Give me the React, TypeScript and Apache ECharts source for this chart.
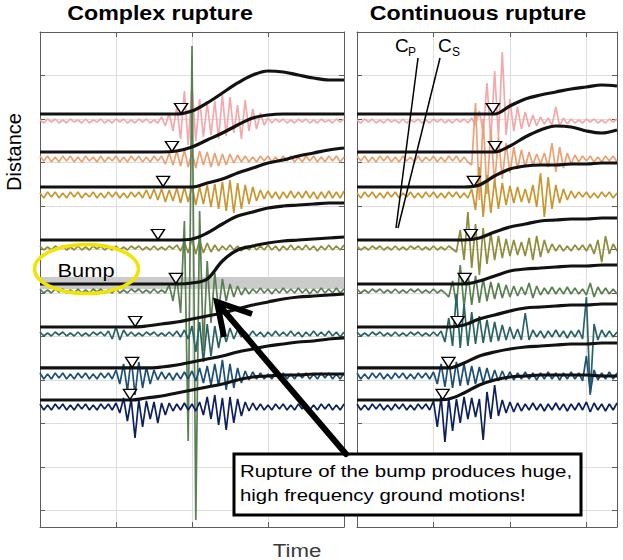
import React, { useEffect, useRef } from "react";
import * as echarts from "echarts";

// ---------- data ----------
const STATIONS = ["pink", "orange", "gold", "olive", "green", "teal", "blue", "navy"];
const TRACE_COLORS = ["#F5A8AB", "#ECA175", "#C9962F", "#8F8C3B", "#5A7F52", "#2A6462", "#1E4F77", "#0C205E"];

const TIME_STEP = 1.25; // seismogram sample step (time units)
const DISP_STEP = 5; // displacement sample step (time units)
const LEFT_T_MAX = 100;
const RIGHT_T_MAX = 85;
const TIME_TICK = 25;
const DIST_MAX = 11.38;
const DIST_TICK = 1;
const AMP_SCALE = 1 / 43.5; // amplitude units -> distance units

// station offsets (distance units), seismogram and displacement baselines
const TRACE_BASE = [2.046, 2.92, 3.747, 4.966, 5.954, 6.943, 7.908, 8.621];
const DISP_BASE = [1.885, 2.759, 3.563, 4.782, 5.793, 6.782, 7.724, 8.46];

// arrival picks (time)
const LEFT_PICK_T = [46.4, 43.4, 40.5, 38.8, 44.7, 31.3, 30.3, 29.6];
const RIGHT_PICK_T = [44.4, 45.1, 38.2, 37.2, 35.2, 32.9, 29.9, 28.0];

// bump fault segment (distance range)
const BUMP_BAND = [5.63, 5.91];

// seismograms, complex rupture (amplitude, up positive)
const LEFT_PINK = `1 -2 2 -1 2 -2 1 -2 2 -1 1 -2 2 -2 1 -1 2 -2 1 -2 2 -1 2 -2 1 -2 2 -1 2 -2 1 -2
4 -5 8 -10 14 -18 30 -24 36 -20 22 -16 18 -14 20 -18 26 -15 24 -12 16 -18 21 -10 12 -8 8 -4 3
-2 2 -1 2 -2 1 -2 2 -1 2 -2 1 -2 2 -1 1 -2 2 -1 2`;
const LEFT_ORANGE = `3 -2 3 -3 2 -3 3 -2 3 -3 2 -3 3 -2 2 -3 3 -3 2 -2 3 -3 2 -3 3 -2 3 -3 2 -3 3 -2 3
-5 6 -6 8 -7 9 -8 7 -9 8 -6 7 -8 6 -7 5 -6 5 -4
4 -3 3 -3 2 -3 3 -2 3 -3 2 -3 3 -2 3 -3 2 -3 3 -2 3 -3 2 -3 3 -2 3 -3 2`;
const LEFT_GOLD = `2 -3 3 -2 3 -3 2 -3 3 -2 3 -3 2 -2 3 -3 2 -3 3 -2 3 -3 2 -3 3 -2 3 -3
5 -4 6 -5 6 -7 5 -6 7 -8 8 -7 9 -10 8 -9 10 -12 11 -14 13 -16 15 -18 12 -14 10 -9 8 -6
5 -4 4 -3 3 -4 3 -3 4 -3 3 -3 4 -3 3 -4 3 -3 4 -3 3 -3 4`;
const LEFT_OLIVE = `2 -2 1 -2 2 -1 2 -2 1 -2 2 -2 1 -2 2 -1 2 -2 1 -2 2 -2 1 -2 2 -1 2 -2 1 -2 2 -2 1 -2 2 -1 3 -3
6 -5 9 -6 8 -5 5 -4
3 -3 2 -2 3 -2 2 -3 2 -2 3 -2 2 -2 3 -2 2 -3 2 -2 3 -2 2 -2 3 -2 2 -3 2 -2 3 -2 2 -2 3`;
const LEFT_GREEN = `2 -2 1 -2 2 -1 2 -2 1 -2 2 -2 1 -2 2 -1 2 -2 1 -2 2 -2 1 -2 2 -1 2 -2 1 -2 2 -2 1 -2
6 -10 14 -22 70 -150 245 -229 80 -60 30 -32 18 -20 12 -10 7 -6 5 -4
3 -3 2 -2 3 -2 2 -3 2 -2 3 -2 2 -2 3 -2 2 -3 2 -2 3 -2 2 -2 3 -2 2`;
const LEFT_TEAL = `2 -2 1 -2 2 -1 2 -2 1 -2 2 -2 1 -2 2 -1 2 -2 3
-5 7 -6 4
-2 2 -2 1 -2 2 -1 2 -2 1 -2 2 -2 3 -3 4 -5
8 -18 12 -28 10 -22 8 -14 6 -8 6 -5 4
-3 2 -2 3 -2 2 -3 2 -2 3 -2 2 -2 3 -2 2 -3 2 -2 3 -2 2 -2 3 -2 2 -3 2`;
const LEFT_BLUE = `3 -3 2 -3 3 -2 3 -3 2 -3 3 -2 3 -3 2 -3 3 -2 3 -3
6 -8 12 -15 18 -19 14 -12 9 -8 6
-4 4 -3 3 -4 3 -3 4 -3 5 -5
8 -7 10 -9 12 -10 16 -14 12 -12 8 -7
5 -4 4 -3 3 -3 2 -3 3 -2 3 -3 2 -3 3 -2 3 -3 2 -3 3 -2 3 -3 2 -3 3`;
const LEFT_NAVY = `3 -3 2 -3 3 -2 3 -3 2 -3 3 -2 3 -3 2 -3 3 -2 3 -3 4
-6 9 -14 8 -31 7 -20 6 -12 5 -16 4 -8
4 -4 3 -3 4 -3 3 -4 5
-8 10 -12 12 -18 9 -23 10 -16 8 -9
5 -4 4 -3 3 -3 2 -3 3 -2 3 -3 2 -3 3 -2 3 -3 2 -3 3 -2 3 -3 2 -3 3`;

// seismograms, continuous rupture
const RIGHT_PINK = `1 -2 2 -1 2 -2 1 -2 2 -1 1 -2 2 -2 1 -1 2 -2 1 -2 2 -1 2 -2 1 -2 2 -1 2 -2 3 -4
10 -12 38 -19 50 -16 69 -14 22 -10 14 -8 9 -6 6 -5
4 -3 3 -4 14 -5 3 -3
2 -2 1 -2 2 -1 2 -2 1 -2 2 -1 2`;
const RIGHT_ORANGE = `3 -2 3 -3 2 -3 3 -2 3 -3 2 -3 3 -2 2 -3 3 -3 2 -2 3 -3 2 -3 3 -2 3 -3 2 -3
-6 56 -41 40 -35 30 -25 22 -20 16 -14 12 -10 9 -8 7 -6 5 -5 6 -8 16 -13 12 -9 6 -5 4
-3 3 -2 3 -3 2 -3 3 -2 3 -3`;
const RIGHT_GOLD = `2 -3 3 -2 3 -3 2 -3 3 -2 3 -3 2 -2 3 -3 2 -3 3 -2 3 -3 2 -3 3 -2 3 -3 2 -3
6 -15 28 -22 20 -18 15 -14 12 -10 9 -8 8 -7 6 -8 10 -12 22 -22 18 -14 10 -8 6 -5 4
-3 3 -2 3 -3 2 -3 3 -2 3 -3 2`;
const RIGHT_OLIVE = `2 -2 1 -2 2 -1 2 -2 1 -2 2 -2 1 -2 2 -1 2 -2 1 -2 2 -2 1 -2 2 -1
-4 18 -12 36 -20 24 -27 20 -16 15 -12 12 -10 9 -8 8 -7 6 -8 10
-12 12 -9 8 -5
4 -3 3 -3 2 -3 3 -2 3 -3 4
-6 8 -14 12 -6
4 -3`;
const RIGHT_GREEN = `2 -2 1 -2 2 -1 2 -2 1 -2 2 -2 1 -2 2 -1 2 -2 1 -2 2 -2 1 -2
-6 10 -14 26 -16 18 -14 15 -12 12 -10 9 -8 8 -7 6 -6 5 -5
4 -4 8 -7 5 -4 3 -3 4 -3 3 -3 4 -3 3 -3 2 -4 8 -6 4 -3 3 -3 2 -3`;
const RIGHT_TEAL = `2 -2 1 -2 2 -1 2 -2 1 -2 2 -2 1 -2 2 -1 2 -2 1 -2 2 -2 3
-8 16 -12 40 -14 30 -12 22 -10 18 -9 14 -8 12 -7 9 -6 7
-5 5 -6 21 -6 4 -3 3 -4 3 -3 4 -3 3 -4 3 -3 4 -5 37 -61 10 -6 4 -3 3 -3 2`;
const RIGHT_BLUE = `3 -3 2 -3 3 -2 3 -3 2 -3 3 -2 3 -3 2 -3 3 -2 3 -3 4
-8 12 -11 16 -12 14 -10 12 -9 10 -8 9 -7 8 -6 6
-5 5 -4 4 -4 3 -3 4 -3 3 -4 3 -3 4 -3 3 -4 3 -3 4 -3 3 -5 20 -17 6 -4 3 -3 4 -3 3`;
const RIGHT_NAVY = `3 -3 2 -3 3 -2 3 -3 2 -3 3 -2 3 -3 2 -3 3 -2 3 -3
6 -20 10 -35 9 -24 8 -16 10 -12 9 -10 8 -33 15 -12 22 -9 7 -6 5
-5 4 -4 3 -3 4 -3 3 -4 3 -3 4 -3 3 -4 3 -3 4 -3 5 -5 4 -3 3 -4 3 -3 4`;

// displacement (rise, amplitude units) every 5 time units
const LEFT_DISP_PINK = [0, 0, 0, 0, 0, 0, 0, 0, 0, 0, 3, 11, 21, 31, 39, 43, 42, 39, 36, 34, 34];
const LEFT_DISP_ORANGE = [0, 0, 0, 0, 0, 0, 0, 0, 0, 1, 5, 12, 19, 27, 34, 37, 38, 38, 38, 38, 38];
const LEFT_DISP_GOLD = [0, 0, 0, 0, 0, 0, 0, 0, 0, 0, 0, 4, 8, 14, 19, 24, 27, 31, 34, 37, 39];
const LEFT_DISP_OLIVE = [0, 0, 0, 0, 0, 0, 0, 0, 0, 0, 1, 7, 16, 24, 28, 32, 34, 35, 36, 37, 37];
const LEFT_DISP_GREEN = [0, 0, 0, 0, 0, 0, 0, 0, 0, 0, 1, 5, 23, 34, 38, 41, 43, 44, 45, 46, 47];
const LEFT_DISP_TEAL = [0, 0, 0, 0, 0, 0, 0, 1, 3, 5, 8, 11, 14, 18, 22, 25, 28, 30, 31, 32, 33];
const LEFT_DISP_BLUE = [0, 0, 0, 0, 0, 0, 0, 0, 1, 3, 6, 9, 12, 16, 19, 22, 24, 26, 27, 29, 30];
const LEFT_DISP_NAVY = [0, 0, 0, 0, 0, 0, 0, 2, 4, 7, 10, 13, 16, 20, 23, 24, 25, 25, 26, 26, 26];

const RIGHT_DISP_PINK = [0, 0, 0, 0, 0, 0, 0, 0, 0, 0, 8, 15, 19, 22, 25, 27, 29, 28];
const RIGHT_DISP_ORANGE = [0, 0, 0, 0, 0, 0, 0, 0, 0, 0, 6, 15, 22, 26, 25, 21, 19, 22];
const RIGHT_DISP_GOLD = [0, 0, 0, 0, 0, 0, 0, 0, 2, 11, 18, 21, 22, 22, 23, 23, 24, 24];
const RIGHT_DISP_OLIVE = [0, 0, 0, 0, 0, 0, 0, 0, 2, 8, 13, 16, 19, 20, 21, 21, 22, 22];
const RIGHT_DISP_GREEN = [0, 0, 0, 0, 0, 0, 0, 0, 3, 8, 13, 15, 16, 17, 18, 18, 19, 19];
const RIGHT_DISP_TEAL = [0, 0, 0, 0, 0, 0, 0, 2, 8, 12, 16, 19, 20, 21, 22, 22, 23, 23];
const RIGHT_DISP_BLUE = [0, 0, 0, 0, 0, 0, 0, 5, 12, 16, 19, 21, 22, 23, 24, 24, 25, 25];
const RIGHT_DISP_NAVY = [0, 0, 0, 0, 0, 0, 1, 7, 15, 20, 23, 24, 25, 25, 25, 25, 24, 24];

const parse = (s: string): number[] => s.trim().split(/\s+/).map(Number);

const LEFT_TRACES = [LEFT_PINK, LEFT_ORANGE, LEFT_GOLD, LEFT_OLIVE, LEFT_GREEN, LEFT_TEAL, LEFT_BLUE, LEFT_NAVY].map(parse);
const RIGHT_TRACES = [RIGHT_PINK, RIGHT_ORANGE, RIGHT_GOLD, RIGHT_OLIVE, RIGHT_GREEN, RIGHT_TEAL, RIGHT_BLUE, RIGHT_NAVY].map(parse);
const LEFT_DISP = [LEFT_DISP_PINK, LEFT_DISP_ORANGE, LEFT_DISP_GOLD, LEFT_DISP_OLIVE, LEFT_DISP_GREEN, LEFT_DISP_TEAL, LEFT_DISP_BLUE, LEFT_DISP_NAVY];
const RIGHT_DISP = [RIGHT_DISP_PINK, RIGHT_DISP_ORANGE, RIGHT_DISP_GOLD, RIGHT_DISP_OLIVE, RIGHT_DISP_GREEN, RIGHT_DISP_TEAL, RIGHT_DISP_BLUE, RIGHT_DISP_NAVY];

// ---------- chart ----------
const FONT = '"Liberation Sans", Arial, Helvetica, sans-serif';
const FRAME = "#5c5c5c";
const GRIDLINE = "#dedede";

function xAxes(gridIndex: number, max: number) {
  const base = {
    gridIndex,
    type: "value",
    min: 0,
    max,
    interval: TIME_TICK,
    axisLabel: { show: false },
    axisLine: { show: true, onZero: false, lineStyle: { color: FRAME, width: 1 } },
    axisTick: { show: true, inside: true, length: 5, lineStyle: { color: FRAME } },
  };
  return [
    { ...base, position: "bottom", splitLine: { show: true, lineStyle: { color: GRIDLINE, width: 1 } } },
    { ...base, position: "top", splitLine: { show: false } },
  ];
}

function yAxes(gridIndex: number) {
  const base = {
    gridIndex,
    type: "value",
    inverse: true,
    min: 0,
    max: DIST_MAX,
    interval: DIST_TICK,
    axisLabel: { show: false },
    axisLine: { show: true, onZero: false, lineStyle: { color: FRAME, width: 1 } },
    axisTick: { show: true, inside: true, length: 5, lineStyle: { color: FRAME } },
  };
  return [
    { ...base, position: "left", splitLine: { show: true, lineStyle: { color: GRIDLINE, width: 1 } } },
    { ...base, position: "right", splitLine: { show: false } },
  ];
}

function panelSeries(panel: number, traces: number[][], disp: number[][], picks: number[]) {
  const axisIdx = panel * 2;
  const out: any[] = [];
  traces.forEach((amps, k) => {
    const s: any = {
      name: `${panel === 0 ? "complex" : "continuous"}-${STATIONS[k]}`,
      type: "line",
      xAxisIndex: axisIdx,
      yAxisIndex: axisIdx,
      showSymbol: false,
      symbol: "none",
      silent: true,
      z: 3,
      lineStyle: { color: TRACE_COLORS[k], width: 1.7, join: "bevel" },
      data: amps.map((a, i) => [i * TIME_STEP, TRACE_BASE[k] - a * AMP_SCALE]),
    };
    if (panel === 0 && k === 4) {
      s.markArea = {
        silent: true,
        itemStyle: { color: "#cbcbcb" },
        data: [[{ coord: [0, BUMP_BAND[0]] }, { coord: [LEFT_T_MAX, BUMP_BAND[1]] }]],
      };
    }
    out.push(s);
  });
  disp.forEach((rise, k) => {
    out.push({
      name: `${panel === 0 ? "complex" : "continuous"}-disp-${STATIONS[k]}`,
      type: "line",
      xAxisIndex: axisIdx,
      yAxisIndex: axisIdx,
      showSymbol: false,
      symbol: "none",
      silent: true,
      smooth: 0.35,
      z: 5,
      lineStyle: { color: "#121212", width: 3.2 },
      data: rise.map((r, i) => [i * DISP_STEP, DISP_BASE[k] - r * AMP_SCALE]),
    });
  });
  out.push({
    name: `${panel === 0 ? "complex" : "continuous"}-picks`,
    type: "scatter",
    xAxisIndex: axisIdx,
    yAxisIndex: axisIdx,
    symbol: "triangle",
    symbolRotate: 180,
    symbolSize: [13, 10],
    symbolOffset: [0, -5.5],
    silent: true,
    z: 6,
    itemStyle: { color: "#ffffff", borderColor: "#000000", borderWidth: 1.4, opacity: 1 },
    data: picks.map((t, k) => [t, DISP_BASE[k]]),
  });
  return out;
}

function txt(text: string, x: number, y: number, size: number, opts: any = {}) {
  return {
    type: "text",
    x,
    y,
    z: 100,
    silent: true,
    scaleX: opts.scaleX ?? 1,
    rotation: opts.rotation ?? 0,
    style: {
      text,
      x: 0,
      y: 0,
      fill: opts.fill ?? "#000",
      font: `${opts.bold ? "bold " : ""}${size}px ${FONT}`,
      textAlign: opts.align ?? "center",
      align: opts.align ?? "center",
      textVerticalAlign: "middle",
      verticalAlign: "middle",
    },
  };
}

export default function App() {
  const ref = useRef<HTMLDivElement>(null);
  useEffect(() => {
    document.body.style.margin = "0";
    if (!ref.current) return;
    const chart = echarts.init(ref.current, undefined, { renderer: "svg" });
    const option: any = {
      animation: false,
      backgroundColor: "#ffffff",
      grid: [
        { left: 40, top: 32, width: 304, height: 495 },
        { left: 357, top: 32, width: 260, height: 495 },
      ],
      xAxis: [...xAxes(0, LEFT_T_MAX), ...xAxes(1, RIGHT_T_MAX)],
      yAxis: [...yAxes(0), ...yAxes(1)],
      series: [
        ...panelSeries(0, LEFT_TRACES, LEFT_DISP, LEFT_PICK_T),
        ...panelSeries(1, RIGHT_TRACES, RIGHT_DISP, RIGHT_PICK_T),
      ],
      graphic: [
        txt("Complex rupture", 160, 14, 19.5, { bold: true, scaleX: 1.19 }),
        txt("Continuous rupture", 478, 14, 19.5, { bold: true, scaleX: 1.19 }),
        txt("Distance", 14, 152, 20, { rotation: Math.PI / 2 }),
        txt("Time", 297, 550, 19, { scaleX: 1.17, fill: "#3a3a3a" }),
        // C_P and C_S labels
        txt("C", 395, 45, 19, { align: "left" }),
        txt("P", 408, 52, 12, { align: "left" }),
        txt("C", 438, 45, 19, { align: "left" }),
        txt("S", 452, 52, 12, { align: "left" }),
        { type: "line", z: 100, silent: true, shape: { x1: 418, y1: 58, x2: 396, y2: 228 }, style: { stroke: "#000", lineWidth: 1.5 } },
        { type: "line", z: 100, silent: true, shape: { x1: 440, y1: 58, x2: 398, y2: 228 }, style: { stroke: "#000", lineWidth: 1.5 } },
        // Bump highlight
        { type: "ellipse", z: 100, silent: true, shape: { cx: 86.5, cy: 269, rx: 52, ry: 24.5 }, style: { fill: "none", stroke: "#F2E400", lineWidth: 3.5 } },
        txt("Bump", 86, 270, 19, { scaleX: 1.15 }),
        // annotation box
        { type: "rect", z: 100, silent: true, shape: { x: 234, y: 454, width: 347, height: 61 }, style: { fill: "#ffffff", stroke: "#000", lineWidth: 3 } },
        txt("Rupture of the bump produces huge,", 240, 471, 17, { align: "left", scaleX: 1.2 }),
        txt("high frequency ground motions!", 240, 495, 17, { align: "left", scaleX: 1.2 }),
        // arrow
        { type: "line", z: 101, silent: true, shape: { x1: 219, y1: 305, x2: 346, y2: 454 }, style: { stroke: "#000", lineWidth: 6, lineCap: "round" } },
        { type: "polyline", z: 101, silent: true, shape: { points: [[252, 314], [217, 302], [224, 337]] }, style: { stroke: "#000", fill: "none", lineWidth: 6, lineJoin: "miter" } },
      ],
    };
    chart.setOption(option);
    return () => chart.dispose();
  }, []);
  return <div ref={ref} style={{ width: 623, height: 560 }} />;
}
